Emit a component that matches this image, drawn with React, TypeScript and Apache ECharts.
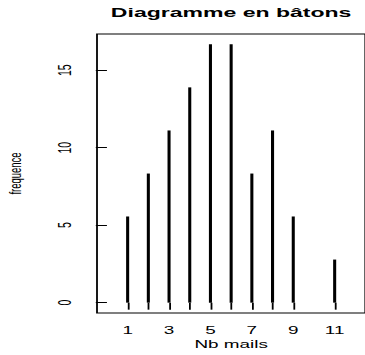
import React, { useEffect, useRef } from "react";
import * as echarts from "echarts";

const nbMails = [1, 2, 3, 4, 5, 6, 7, 8, 9, 11];
const frequence = [5.56, 8.33, 11.11, 13.89, 16.67, 16.67, 8.33, 11.11, 5.56, 2.78];
const xTickLabels = [1, 3, 5, 7, 9, 11];
const yTickLabels = [0, 5, 10, 15];

const S = 1.8; // horizontal stretch of the reference
const W = 365 / S;
const FONT = "'Liberation Sans', Arial, Helvetica, sans-serif";

export default function App() {
  const ref = useRef<HTMLDivElement>(null);
  useEffect(() => {
    if (!ref.current) return;
    const chart = echarts.init(ref.current, null, { renderer: "svg" });
    const plotL = 97 / S;
    const plotW = 268.3 / S;
    chart.setOption({
      animation: false,
      backgroundColor: "#fff",
      textStyle: { fontFamily: FONT, color: "#000" },
      grid: {
        left: plotL,
        top: 34,
        width: plotW,
        height: 279,
        show: true,
        borderColor: "#000",
        borderWidth: 1,
        backgroundColor: "transparent",
        containLabel: false,
        outerBoundsMode: "none",
      },
      xAxis: {
        type: "value",
        min: -0.48,
        max: 12.48,
        splitLine: { show: false },
        axisLine: { show: false },
        axisTick: { show: true, length: 7, customValues: nbMails, lineStyle: { color: "#000", width: 1 } },
        axisLabel: { customValues: xTickLabels, margin: 12, fontSize: 10.5, color: "#000", fontFamily: FONT },
      },
      yAxis: {
        type: "value",
        min: -0.667,
        max: 17.333,
        splitLine: { show: false },
        axisLine: { show: false },
        axisTick: { show: true, length: 6.2, customValues: yTickLabels, lineStyle: { color: "#000", width: 1 } },
        axisLabel: { customValues: yTickLabels, rotate: 90, margin: 13, fontSize: 10.5, color: "#000", fontFamily: FONT },
      },
      series: [
        {
          type: "bar",
          data: nbMails.map((x, i) => [x, frequence[i]]),
          barWidth: 1.7,
          itemStyle: { color: "#000" },
          silent: true,
        },
      ],
      graphic: [
        {
          type: "text",
          x: plotL + plotW / 2,
          y: 13,
          style: {
            text: "Diagramme en bâtons",
            font: `bold 12.8px ${FONT}`,
            fill: "#000",
            align: "center",
            verticalAlign: "middle",
          },
        },
        {
          type: "text",
          x: plotL + plotW / 2,
          y: 344,
          style: {
            text: "Nb mails",
            font: `10.5px ${FONT}`,
            fill: "#000",
            align: "center",
            verticalAlign: "middle",
          },
        },
        {
          type: "text",
          x: 15 / S,
          y: 173.5,
          rotation: Math.PI / 2,
          style: {
            text: "frequence",
            font: `9.5px ${FONT}`,
            fill: "#000",
            align: "center",
            verticalAlign: "middle",
          },
        },
      ],
    });
    return () => chart.dispose();
  }, []);
  return (
    <div
      style={{
        position: "fixed",
        left: 0,
        top: 0,
        width: 365,
        height: 355,
        overflow: "hidden",
        background: "#fff",
      }}
    >
      <div
        ref={ref}
        style={{
          width: W,
          height: 355,
          transform: `scaleX(${S})`,
          transformOrigin: "0 0",
        }}
      />
    </div>
  );
}
